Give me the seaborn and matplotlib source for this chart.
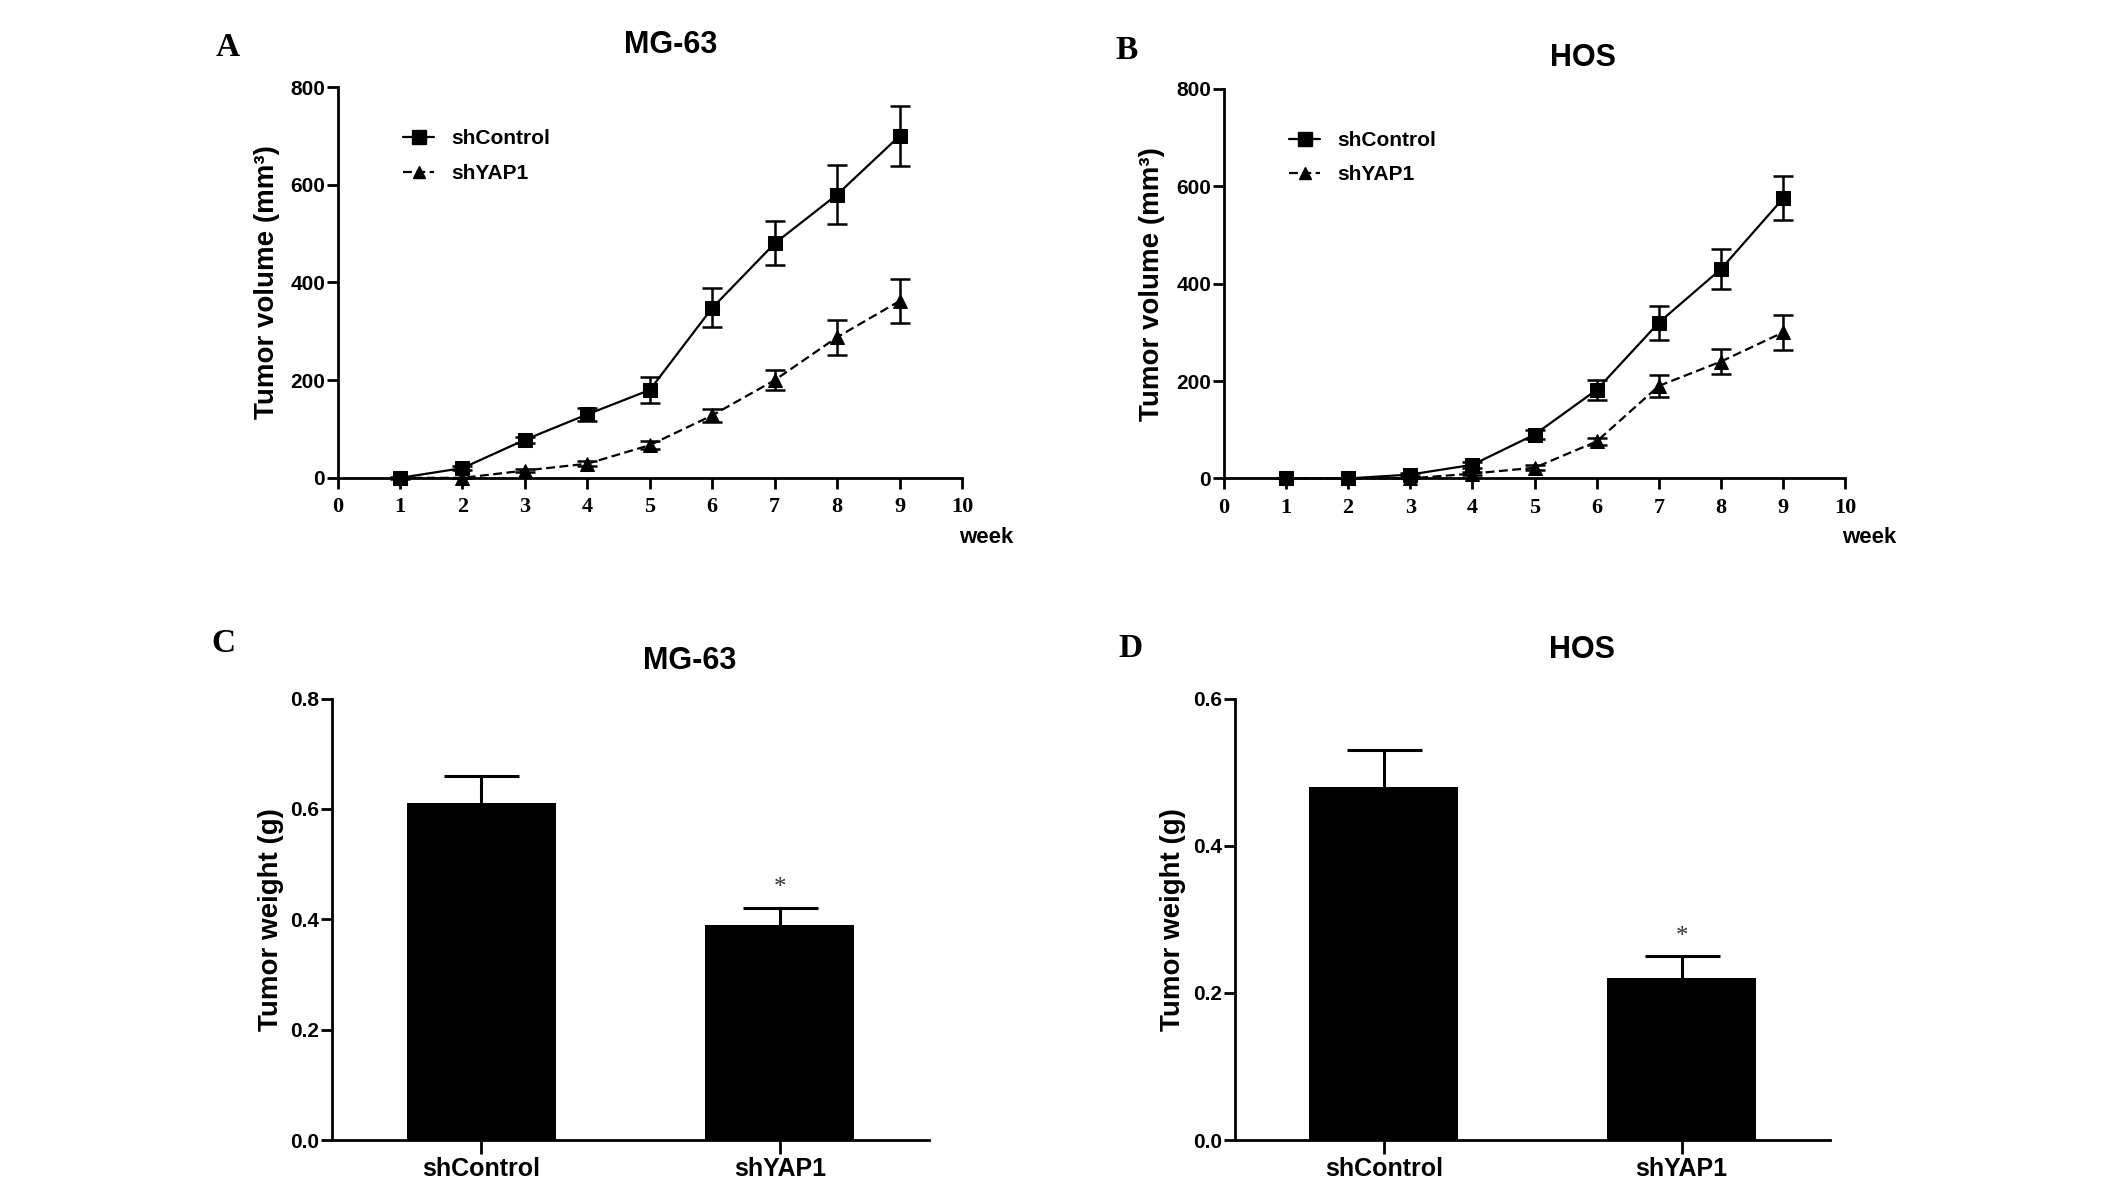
import pandas as pd
import seaborn as sns
from matplotlib import pyplot as plt
from matplotlib.lines import Line2D

# growth curves (tumor volume, mm3)
weeks = [1, 2, 3, 4, 5, 6, 7, 8, 9]
mg63_ctrl = [0, 20, 78, 130, 180, 348, 480, 580, 700]
mg63_ctrl_err = [2, 4, 6, 14, 27, 40, 45, 61, 62]
mg63_yap = [0, 0, 15, 29, 67, 128, 200, 288, 362]
mg63_yap_err = [0, 0, 3, 5, 8, 13, 21, 36, 45]

hos_ctrl = [0, 0, 8, 28, 90, 182, 320, 430, 575]
hos_ctrl_err = [0, 0, 3, 6, 10, 20, 35, 41, 45]
hos_yap = [0, 0, 0, 10, 22, 76, 190, 240, 300]
hos_yap_err = [0, 0, 0, 3, 5, 8, 22, 25, 36]

# tumor weight (g)
groups = ['shControl', 'shYAP1']
mg63_weight = [0.61, 0.39]
mg63_weight_err = [0.05, 0.03]
hos_weight = [0.48, 0.22]
hos_weight_err = [0.05, 0.03]

sns.set_style('ticks')
plt.rcParams['font.family'] = ['Liberation Sans', 'DejaVu Sans']
plt.rcParams['font.weight'] = 'bold'
plt.rcParams['axes.labelweight'] = 'bold'
plt.rcParams['axes.linewidth'] = 2.0
plt.rcParams['xtick.major.width'] = 2.0
plt.rcParams['ytick.major.width'] = 2.0
plt.rcParams['xtick.color'] = 'black'
plt.rcParams['ytick.color'] = 'black'
plt.rcParams['axes.edgecolor'] = 'black'
plt.rcParams['text.color'] = 'black'
plt.rcParams['axes.labelcolor'] = 'black'

fig = plt.figure(figsize=(21.26, 11.77), dpi=100)
axA = fig.add_axes([0.1588, 0.594, 0.2937, 0.332])
axB = fig.add_axes([0.5756, 0.5935, 0.2924, 0.3311])
axC = fig.add_axes([0.1562, 0.0313, 0.2808, 0.3752])
axD = fig.add_axes([0.5809, 0.0313, 0.2801, 0.3752])


def draw_growth(ax, ctrl, ctrl_err, yap, yap_err, ylab_x):
    df = pd.DataFrame({
        'week': weeks + weeks,
        'volume': ctrl + yap,
        'group': ['shControl'] * len(weeks) + ['shYAP1'] * len(weeks),
    })
    sns.lineplot(data=df, x='week', y='volume', style='group',
                 markers={'shControl': 's', 'shYAP1': '^'},
                 dashes={'shControl': '', 'shYAP1': (4, 2)},
                 color='black', linewidth=1.6, markersize=10,
                 markeredgecolor='black', legend=False, ax=ax)
    ax.errorbar(weeks, ctrl, yerr=ctrl_err, fmt='none', ecolor='black',
                capsize=7, elinewidth=1.8, capthick=1.8, clip_on=False)
    ax.errorbar(weeks, yap, yerr=yap_err, fmt='none', ecolor='black',
                capsize=7, elinewidth=1.8, capthick=1.8, clip_on=False)
    for ln in ax.lines:
        ln.set_clip_on(False)

    ax.set_xlim(0, 10)
    ax.set_ylim(0, 800)
    ax.set_xticks(range(0, 11))
    ax.set_yticks(range(0, 801, 200))
    ax.tick_params(axis='y', length=8, pad=1, labelsize=15)
    ax.tick_params(axis='x', length=8, pad=6, labelsize=16)
    for t in ax.get_xticklabels():
        t.set_family(['Liberation Serif', 'DejaVu Serif'])
        t.set_weight('bold')
    sns.despine(ax=ax)

    ax.set_ylabel('Tumor volume (mm³)', fontsize=20, fontweight='bold')
    ax.yaxis.set_label_coords(ylab_x, 0.5)
    ax.set_xlabel('week', fontsize=16, fontweight='bold')
    ax.xaxis.set_label_coords(1.038, -0.125)

    handles = [
        Line2D([], [], color='black', lw=1.6, ls='-', marker='s', ms=10),
        Line2D([], [], color='black', lw=1.6, ls=(0, (4, 2)), marker='^', ms=9),
    ]
    ax.legend(handles, groups, loc='upper left', bbox_to_anchor=(0.105, 0.892),
              frameon=False, borderaxespad=0, borderpad=0, handlelength=1.5,
              labelspacing=0.75, numpoints=1,
              prop={'size': 15, 'weight': 'bold'})


def draw_weight(ax, vals, errs, ymax, ylab_x, star_y):
    df = pd.DataFrame({'group': groups, 'weight': vals})
    sns.barplot(data=df, x='group', y='weight', color='black', width=0.5,
                saturation=1, errorbar=None, linewidth=0, ax=ax)
    # upper half of the SEM bars only
    eb = ax.errorbar([0, 1], vals, yerr=[[0, 0], errs], fmt='none',
                     ecolor='black', capsize=27, elinewidth=2.2, capthick=2.2)
    eb[1][0].set_visible(False)
    ax.text(1, star_y, '*', ha='center', va='center', fontsize=18,
            color='#333333', family=['Liberation Serif'], fontweight='normal')
    ax.set_xlim(-0.5, 1.5)
    ax.set_ylim(0, ymax)
    ax.set_yticks([round(v * 0.2, 1) for v in range(int(round(ymax / 0.2)) + 1)])
    ax.set_yticklabels(['%.1f' % v for v in ax.get_yticks()])
    ax.tick_params(axis='y', length=8, pad=1, labelsize=15)
    ax.tick_params(axis='x', length=10, pad=2, labelsize=18)
    for t in ax.get_xticklabels():
        t.set_weight('bold')
    sns.despine(ax=ax)
    ax.set_xlabel('')
    ax.set_ylabel('Tumor weight (g)', fontsize=20, fontweight='bold')
    ax.yaxis.set_label_coords(ylab_x, 0.5)


draw_growth(axA, mg63_ctrl, mg63_ctrl_err, mg63_yap, mg63_yap_err, -0.092)
draw_growth(axB, hos_ctrl, hos_ctrl_err, hos_yap, hos_yap_err, -0.094)
draw_weight(axC, mg63_weight, mg63_weight_err, 0.8, -0.081, 0.456)
draw_weight(axD, hos_weight, hos_weight_err, 0.6, -0.083, 0.276)

# panel titles and letters
for x, y, s in [(0.3153, 0.9615, 'MG-63'), (0.7444, 0.9507, 'HOS'),
                (0.3242, 0.4387, 'MG-63'), (0.7443, 0.4481, 'HOS')]:
    fig.text(x, y, s, ha='center', va='center', fontsize=22, fontweight='bold')
for x, y, s in [(0.107, 0.96, 'A'), (0.5297, 0.957, 'B'),
                (0.105, 0.4534, 'C'), (0.5316, 0.449, 'D')]:
    fig.text(x, y, s, ha='center', va='center', fontsize=24, fontweight='bold',
             family=['Liberation Serif', 'DejaVu Serif'])

fig.savefig('out.png', dpi=100)
